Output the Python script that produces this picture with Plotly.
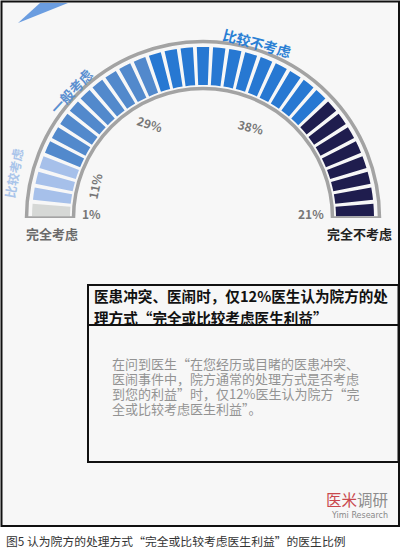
import plotly.graph_objects as go

# categories shown around the gauge, left to right
categories = ["完全考虑", "比较考虑", "一般考虑", "比较不考虑", "完全不考虑"]
percents = ["1%", "11%", "29%", "38%", "21%"]
seg_counts = [1, 3, 9, 12, 8]
colors = ["#d6d8d6", "#a6c0ea", "#5289cc", "#2778d2", "#1f1d4e"]

header_lines = ["医患冲突、医闹时，仅12%医生认为院方的处", "理方式“完全或比较考虑医生利益”"]
body_lines = ["在问到医生“在您经历或目睹的医患冲突、",
              "医闹事件中，院方通常的处理方式是否考虑",
              "到您的利益”时，仅12%医生认为院方“完",
              "全或比较考虑医生利益”。"]
caption = "图5 认为院方的处理方式“完全或比较考虑医生利益”的医生比例"

W, H = 401, 549
FONT = "Noto Sans CJK SC"

n_total = sum(seg_counts)
step = 180 / n_total

fig = go.Figure()

# segments of the gauge
i = 0
for cat, n, c in zip(categories, seg_counts, colors):
    thetas = [(i + k + 0.5) * step for k in range(n)]
    fig.add_trace(go.Barpolar(
        theta=thetas, r=[38] * n, base=133, width=step - 1.3,
        marker=dict(color=c, line=dict(width=0)),
        name=cat, hoverinfo="name",
    ))
    i += n

# gray outline around the band
fig.add_trace(go.Barpolar(
    theta=[90], r=[47], base=129.5, width=180,
    marker=dict(color="rgba(0,0,0,0)", line=dict(color="#a3a3a3", width=3.5)),
    hoverinfo="skip",
))

cx, cy, R = 203, 218, 180
fig.update_layout(
    width=W, height=H,
    margin=dict(l=0, r=0, t=0, b=0),
    paper_bgcolor="white",
    showlegend=False,
    font=dict(family=FONT),
    polar=dict(
        domain=dict(x=[(cx - R) / W, (cx + R) / W], y=[(H - cy) / H, (H - cy + R) / H]),
        sector=[0, 180],
        bgcolor="rgba(0,0,0,0)",
        radialaxis=dict(range=[0, R], visible=False),
        angularaxis=dict(direction="clockwise", rotation=180, visible=False),
        bargap=0,
    ),
)

def px(x, y):
    return x / W, 1 - y / H

shapes = []
# outer frame with light background
shapes.append(dict(type="rect", xref="paper", yref="paper", layer="below",
                   x0=1.5 / W, x1=399 / W, y0=1 - 526 / H, y1=1 - 1.5 / H,
                   fillcolor="#f7f7f7", line=dict(color="#111", width=2)))
# blue blade in the top-left corner
x0, y0 = px(18, 23)
x1, y1 = px(40, 3)
x2, y2 = px(68, 3)
shapes.append(dict(type="path", xref="paper", yref="paper", layer="below",
                   path=f"M{x0},{y0} L{x1},{y1} L{x2},{y2} Z",
                   fillcolor="#6b9de0", line=dict(width=0)))
# text box
shapes.append(dict(type="rect", xref="paper", yref="paper",
                   x0=88 / W, x1=398.5 / W, y0=1 - 462 / H, y1=1 - 285 / H,
                   line=dict(color="#111", width=2)))
shapes.append(dict(type="line", xref="paper", yref="paper",
                   x0=88 / W, x1=398.5 / W, y0=1 - 325 / H, y1=1 - 325 / H,
                   line=dict(color="#111", width=2)))
fig.update_layout(shapes=shapes)

def label(text, x, y, size=12, color="#777", angle=0, bold=True, xanchor="center", family=FONT):
    ax, ay = px(x, y)
    t = f"<b>{text}</b>" if bold else text
    fig.add_annotation(text=t, x=ax, y=ay, xref="paper", yref="paper",
                       showarrow=False, textangle=angle, xanchor=xanchor, yanchor="middle",
                       font=dict(size=size, color=color, family=family))

# end labels
label(categories[0], 52, 233, size=13, color="#6a6a6a")
label(categories[4], 359, 233, size=13, color="#222")
# arc labels
label(categories[1], 13, 173, size=12.5, color="#a9c4ea", angle=-80)
label(categories[2], 71, 91, size=13.5, color="#5b8fd0", angle=-47)
label(categories[3], 257, 43, size=14, color="#2a7fd4", angle=15)
# percentages
label(percents[0], 91, 213, size=12)
label(percents[1], 95, 186, size=12, angle=-78)
label(percents[2], 150, 124, size=12, angle=18)
label(percents[3], 251, 126, size=12, angle=14)
label(percents[4], 311, 213, size=12)

# text box contents
for k, line in enumerate(header_lines):
    label(line, 92, 295 + 22 * k, size=14.6, color="#111", xanchor="left")
for k, line in enumerate(body_lines):
    label(line, 110, 363 + 15 * k, size=13, color="#939393", bold=False, xanchor="left")

# logo
label("<span style='color:#c9484d'>医米</span>调研", 390, 499, size=15.5, color="#8c8c8c",
      bold=False, xanchor="right")
label("Yimi Research", 390, 515, size=8, color="#888", bold=False, xanchor="right",
      family="DejaVu Sans")
# caption
label(caption, 4, 540, size=11.8, color="#333", bold=False, xanchor="left")

fig.write_html("out.html", config={"displayModeBar": False},
               post_script="document.body.style.margin='0';"
               "document.documentElement.style.overflow='hidden';")
